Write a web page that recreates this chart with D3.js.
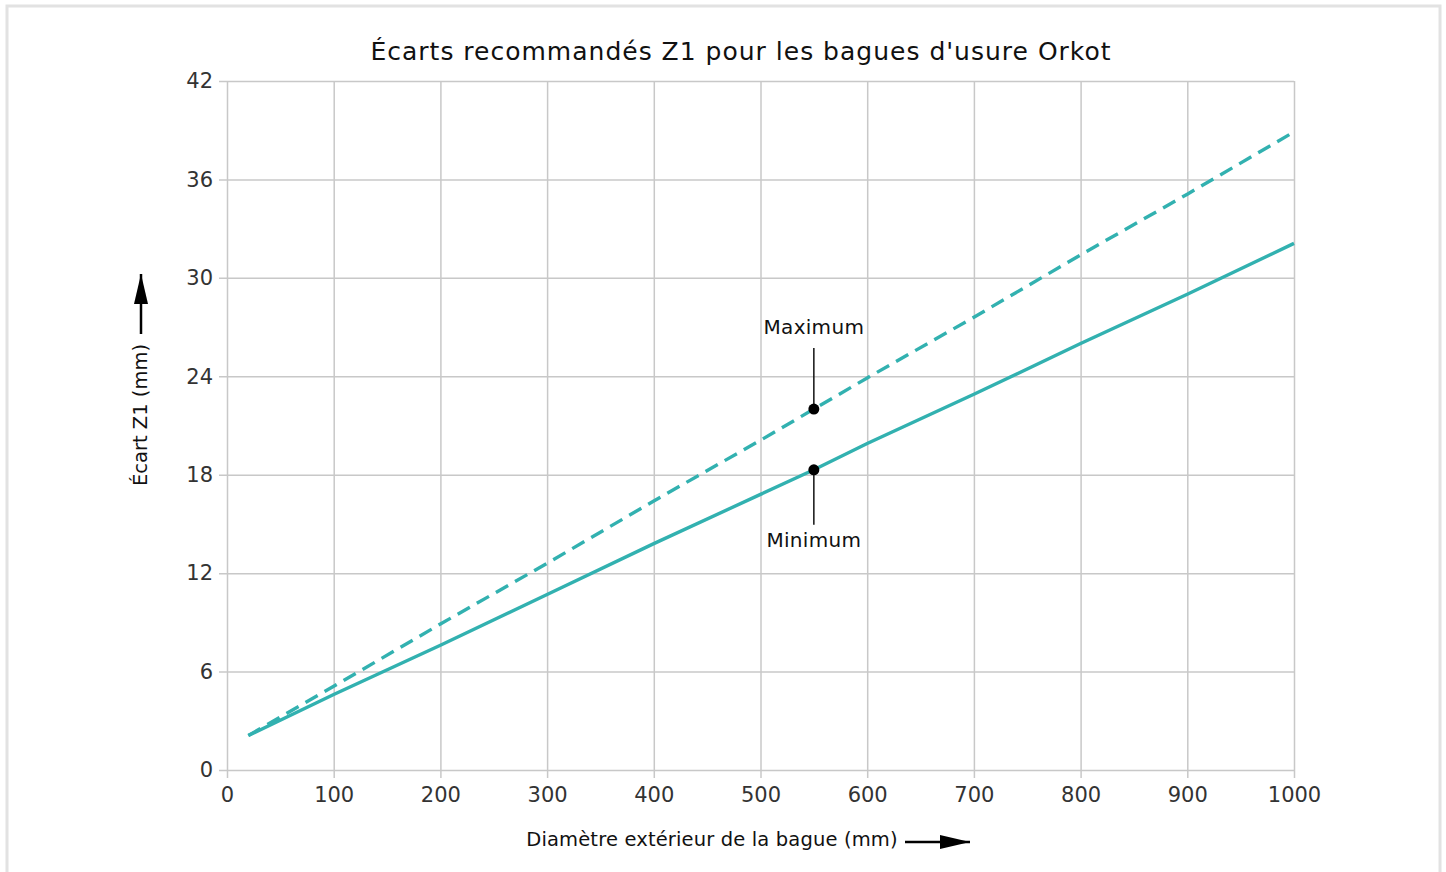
<!DOCTYPE html>
<html lang="fr">
<head>
<meta charset="UTF-8">
<script src="https://cdn.jsdelivr.net/npm/d3@7"></script>
<title>Écarts recommandés Z1</title>
<style>
    body { margin: 0; background: #fff; }
    svg { display: block; font-family: "DejaVu Sans", sans-serif; }
    .grid line { stroke: #c8c8c8; stroke-width: 1.5; }
    .axis text { fill: #333; font-size: 21px; font-family: "DejaVu Sans", sans-serif; }
    .axis path { display: none; }
</style>
</head>
<body>
<div id="chart"></div>
<script>
    const width = 1446,
        height = 872;
    const margin = {left: 227, right: 152, top: 81, bottom: 102};

    // diamètre extérieur (mm)
    const diam = [20, 100, 200, 300, 400, 500, 550, 600, 700, 800, 900, 1000];
    const ecartMin = [2.1, 4.6, 7.6, 10.7, 13.8, 16.8, 18.3, 19.9, 22.9, 26.0, 29.0, 32.1];
    const ecartMax = [2.1, 5.1, 8.9, 12.6, 16.4, 20.1, 22.0, 23.9, 27.6, 31.4, 35.1, 38.9];
    const xTicks = [0, 100, 200, 300, 400, 500, 600, 700, 800, 900, 1000];
    const yTicks = [0, 6, 12, 18, 24, 30, 36, 42];
    const marks = [
        {label: "Maximum", x: 550, y: 22.0, side: "top"},
        {label: "Minimum", x: 550, y: 18.3, side: "bottom"}
    ];

    const teal = "#32b1b0";

    const x = d3.scaleLinear().domain([0, 1000]).range([margin.left, width - margin.right]);
    const y = d3.scaleLinear().domain([0, 42]).range([height - margin.bottom, margin.top]);

    const svg = d3.select("#chart").append("svg")
        .attr("width", width)
        .attr("height", height);

    // cadre gris
    svg.append("rect")
        .attr("x", 7).attr("y", 6)
        .attr("width", 1433).attr("height", 900)
        .attr("fill", "none")
        .attr("stroke", "#e2e2e2")
        .attr("stroke-width", 3);

    // grille + ticks
    svg.append("g")
        .attr("class", "grid axis")
        .attr("transform", `translate(0, ${y(0)})`)
        .call(d3.axisBottom(x).tickValues(xTicks).tickFormat(d3.format("d"))
            .tickSize(-(y(0) - y(42))).tickPadding(17))
        .call(g => g.selectAll(".tick line").attr("y1", 8));

    svg.append("g")
        .attr("class", "grid axis")
        .attr("transform", `translate(${x(0)}, 0)`)
        .call(d3.axisLeft(y).tickValues(yTicks).tickSize(-(x(1000) - x(0))).tickPadding(14))
        .call(g => g.selectAll(".tick line").attr("x1", -8));

    // courbes
    const line = d3.line()
        .x(d => x(d[0]))
        .y(d => y(d[1]));

    svg.append("path")
        .datum(d3.zip(diam, ecartMax))
        .attr("d", line)
        .attr("fill", "none")
        .attr("stroke", teal)
        .attr("stroke-width", 3.4)
        .attr("stroke-dasharray", "14 8");

    svg.append("path")
        .datum(d3.zip(diam, ecartMin))
        .attr("d", line)
        .attr("fill", "none")
        .attr("stroke", teal)
        .attr("stroke-width", 3.4);

    // annotations
    const ann = svg.append("g").selectAll("g").data(marks).join("g");
    ann.append("line")
        .attr("x1", d => x(d.x)).attr("x2", d => x(d.x))
        .attr("y1", d => y(d.y))
        .attr("y2", d => d.side === "top" ? y(d.y) - 61 : y(d.y) + 55)
        .attr("stroke", "#111").attr("stroke-width", 1.5);
    ann.append("circle")
        .attr("cx", d => x(d.x)).attr("cy", d => y(d.y))
        .attr("r", 5.5).attr("fill", "#000");
    ann.append("text")
        .attr("x", d => x(d.x))
        .attr("y", d => d.side === "top" ? y(d.y) - 75 : y(d.y) + 77)
        .attr("text-anchor", "middle")
        .attr("font-size", 20)
        .attr("letter-spacing", 0.3)
        .attr("fill", "#111")
        .text(d => d.label);

    // titre
    svg.append("text")
        .attr("x", 741).attr("y", 60)
        .attr("text-anchor", "middle")
        .attr("font-size", 25)
        .attr("letter-spacing", 1)
        .attr("fill", "#111")
        .text("Écarts recommandés Z1 pour les bagues d'usure Orkot");

    // flèches
    svg.append("defs").append("marker")
        .attr("id", "arrow")
        .attr("viewBox", "0 0 10 10")
        .attr("refX", 10).attr("refY", 5)
        .attr("markerWidth", 30).attr("markerHeight", 14)
        .attr("markerUnits", "userSpaceOnUse")
        .attr("preserveAspectRatio", "none")
        .attr("orient", "auto")
        .append("path").attr("d", "M0,0L10,5L0,10Z").attr("fill", "#000");

    // titre axe x
    svg.append("text")
        .attr("x", 712).attr("y", 846)
        .attr("text-anchor", "middle")
        .attr("font-size", 19.5)
        .attr("letter-spacing", 0.15)
        .attr("fill", "#111")
        .text("Diamètre extérieur de la bague (mm)");
    svg.append("path")
        .attr("d", "M905,842H970")
        .attr("stroke", "#000").attr("stroke-width", 2.5)
        .attr("marker-end", "url(#arrow)");

    // titre axe y
    svg.append("text")
        .attr("transform", "translate(147, 415) rotate(-90)")
        .attr("text-anchor", "middle")
        .attr("font-size", 19.5)
        .attr("fill", "#111")
        .text("Écart Z1 (mm)");
    svg.append("path")
        .attr("d", "M141,334V274")
        .attr("stroke", "#000").attr("stroke-width", 2.5)
        .attr("marker-end", "url(#arrow)");
</script>
</body>
</html>
